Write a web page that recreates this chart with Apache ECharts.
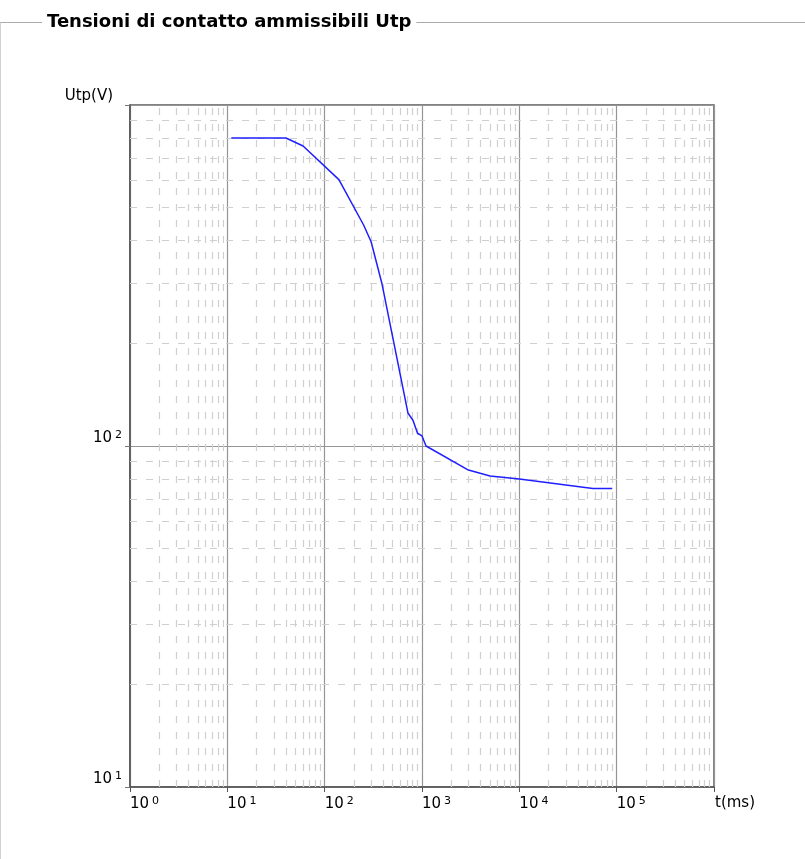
<!DOCTYPE html>
<html>
<head>
<meta charset="utf-8">
<script src="https://cdn.jsdelivr.net/npm/echarts@6/dist/echarts.min.js"></script>
<style>
html,body{margin:0;padding:0;background:#fff;}
#chart{width:805px;height:859px;}
</style>
</head>
<body>
<div id="chart"></div>
<script>
// ---- data ----
const titleText = 'Tensioni di contatto ammissibili Utp';
const xAxisName = 't(ms)';
const yAxisName = 'Utp(V)';
const tValues = [11, 40, 60, 140, 252, 300, 388, 717, 807, 900, 1000, 1100, 3000, 5000, 10000, 57000, 90000];
const uValues = [800, 800, 758, 604, 444, 397, 299, 125, 119, 109, 107, 100, 85, 81.7, 80, 75, 75];
const xTickExponents = [0, 1, 2, 3, 4, 5];
const yTickExponents = [1, 2];
const xDecades = [1, 10, 100, 1000, 10000, 100000];
const yDecades = [10, 100];
const minorMultipliers = [2, 3, 4, 5, 6, 7, 8, 9];

const xMinor = [];
xDecades.forEach(d => minorMultipliers.forEach(m => xMinor.push(m * d)));
const yMinor = [];
yDecades.forEach(d => minorMultipliers.forEach(m => yMinor.push(m * d)));

const FONT = 'DejaVu Sans';
const rich = {
  b: { fontFamily: FONT, fontSize: 15, color: '#000', verticalAlign: 'bottom' },
  s: { fontFamily: FONT, fontSize: 11, color: '#000', verticalAlign: 'bottom', padding: [0, 0, 5, 3] }
};
function expLabel(list) {
  return function (v) {
    const e = Math.round(Math.log10(v));
    return list.indexOf(e) >= 0 ? '{b|10}{s|' + e + '}' : '';
  };
}

const chart = echarts.init(document.getElementById('chart'), null, { renderer: 'canvas' });
chart.setOption({
  animation: false,
  backgroundColor: '#fff',
  title: {
    text: titleText,
    left: 42,
    top: 13,
    padding: [0, 5],
    backgroundColor: '#fff',
    z: 10,
    textStyle: { fontFamily: FONT, fontWeight: 'bold', fontSize: 18, color: '#000' }
  },
  graphic: [
    { type: 'line', z: 0, shape: { x1: 0, y1: 22.5, x2: 805, y2: 22.5 }, style: { stroke: '#aaa', lineWidth: 1 } },
    { type: 'line', z: 0, shape: { x1: 0.5, y1: 22.5, x2: 0.5, y2: 859 }, style: { stroke: '#d0d0d0', lineWidth: 1 } }
  ],
  grid: {
    left: 130, top: 105, right: 91, bottom: 72,
    show: true, borderColor: '#5a5a5a', borderWidth: 1.5, backgroundColor: 'transparent'
  },
  xAxis: {
    type: 'log', logBase: 10, min: 1, max: 1000000, splitNumber: 6,
    name: xAxisName, nameLocation: 'end', nameGap: 1,
    nameTextStyle: { fontFamily: FONT, fontSize: 15, color: '#000', align: 'left', verticalAlign: 'top', padding: [9, 0, 0, 0] },
    axisLine: { show: true, lineStyle: { color: '#555', width: 1.5 } },
    axisTick: { show: true, length: 5, lineStyle: { color: '#555' } },
    axisLabel: { formatter: expLabel(xTickExponents), align: 'left', margin: 9, rich: rich, showMinLabel: true, showMaxLabel: true },
    splitLine: { show: true, lineStyle: { color: '#959595', width: 1.2 } },
    minorTick: { show: false }, minorSplitLine: { show: false }
  },
  yAxis: {
    type: 'log', logBase: 10, min: 10, max: 1000, splitNumber: 2,
    name: yAxisName, nameLocation: 'end', nameGap: 1,
    nameTextStyle: { fontFamily: FONT, fontSize: 15, color: '#000', align: 'right', verticalAlign: 'bottom', padding: [0, 17, 0, 0] },
    axisLine: { show: true, lineStyle: { color: '#555', width: 1.5 } },
    axisTick: { show: true, length: 5, lineStyle: { color: '#777' } },
    axisLabel: { formatter: expLabel(yTickExponents), verticalAlign: 'bottom', margin: 8, rich: rich, showMinLabel: true },
    splitLine: { show: true, lineStyle: { color: '#959595', width: 1.2 } },
    minorTick: { show: false }, minorSplitLine: { show: false }
  },
  series: [
    {
      type: 'line', data: [], silent: true, z: 1,
      markLine: {
        silent: true, symbol: ['none', 'none'], animation: false,
        label: { show: false },
        emphasis: { disabled: true },
        lineStyle: { color: '#cfcfcf', type: [7, 9], width: 1.2 },
        data: xMinor.map(v => ({ xAxis: v })).concat(yMinor.map(v => ({ yAxis: v })))
      }
    },
    {
      type: 'line', z: 5,
      data: tValues.map((t, i) => [t, uValues[i]]),
      showSymbol: false, symbol: 'none',
      lineStyle: { color: '#1f1fff', width: 1.5 }
    }
  ]
});
</script>
</body>
</html>
